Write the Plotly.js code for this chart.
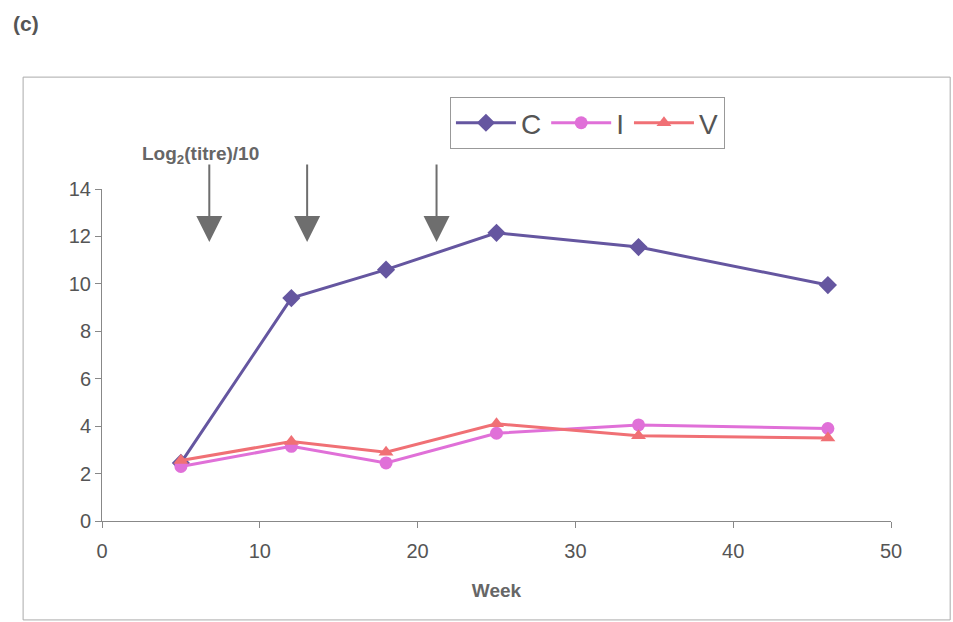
<!DOCTYPE html>
<html>
<head>
<meta charset="utf-8">
<script src="https://cdn.plot.ly/plotly-3.0.1.min.js"></script>
<style>html,body{margin:0;padding:0;background:#fff;}#chart{width:953px;height:622px;}</style>
</head>
<body>
<div id="chart"></div>
<script>
const weeks = [5, 12, 18, 25, 34, 46];
const seriesC = [2.45, 9.4, 10.6, 12.15, 11.55, 9.95];
const seriesI = [2.3, 3.15, 2.45, 3.7, 4.05, 3.9];
const seriesV = [2.55, 3.35, 2.9, 4.1, 3.6, 3.5];
const arrowWeeks = [6.8, 13.0, 21.2];
const xTicks = [0, 10, 20, 30, 40, 50];
const yTicks = [0, 2, 4, 6, 8, 10, 12, 14];

const gray = '#5a5a5a';
const traces = [
  {x: weeks, y: seriesC, name: 'C', mode: 'lines+markers', type: 'scatter',
   line: {color: '#6556a0', width: 3}, marker: {symbol: 'diamond', size: 14, color: '#6556a0'}},
  {x: weeks, y: seriesI, name: 'I', mode: 'lines+markers', type: 'scatter',
   line: {color: '#e070d8', width: 3}, marker: {symbol: 'circle', size: 13, color: '#e070d8'}},
  {x: weeks, y: seriesV, name: 'V', mode: 'lines+markers', type: 'scatter',
   line: {color: '#f07075', width: 3}, marker: {symbol: 'triangle-up', size: 13, color: '#f07075'}}
];

const annotations = arrowWeeks.map(w => ({
  x: w, y: 11.77, xref: 'x', yref: 'y', ax: 0, ay: -79, axref: 'pixel', ayref: 'pixel',
  showarrow: true, arrowhead: 2, arrowsize: 2.6, arrowwidth: 2, arrowcolor: '#6e6e6e', text: ''
}));
annotations.push({text: '(c)', xref: 'paper', yref: 'paper', x: -0.115, y: 1.50, xanchor: 'left', yanchor: 'middle',
  showarrow: false, font: {family: 'Liberation Sans, Arial', size: 21, color: '#555', weight: 'bold'}});
annotations.push({text: 'Log<sub>2</sub>(titre)/10', xref: 'paper', yref: 'paper', x: 0.048, y: 1.102, xanchor: 'left', yanchor: 'middle',
  showarrow: false, font: {family: 'Liberation Sans, Arial', size: 19, color: '#666', weight: 'bold'}});

const layout = {
  width: 953, height: 622,
  margin: {l: 102, r: 62, t: 189, b: 101},
  paper_bgcolor: '#fff', plot_bgcolor: '#fff',
  font: {family: 'Liberation Sans, Arial', color: gray},
  showlegend: true,
  legend: {orientation: 'h', x: 0.441, y: 1.277, xanchor: 'left', yanchor: 'top',
    bordercolor: '#999', borderwidth: 1, bgcolor: '#fff',
    font: {size: 28, color: '#555'}, itemwidth: 60, tracegroupgap: 0},
  xaxis: {range: [0, 50], tickvals: xTicks, showgrid: false, zeroline: false,
    showline: true, linecolor: '#888', linewidth: 1, ticks: 'outside', ticklen: 6, tickcolor: '#888',
    tickfont: {size: 20, color: '#555'}, ticklabelstandoff: 6,
    title: {text: 'Week', font: {size: 19, color: '#666', weight: 'bold'}, standoff: 22}},
  yaxis: {range: [0, 14], tickvals: yTicks, showgrid: false, zeroline: false,
    showline: true, linecolor: '#888', linewidth: 1, ticks: 'outside', ticklen: 6, tickcolor: '#888',
    tickfont: {size: 20, color: '#555'}},
  shapes: [{type: 'rect', xref: 'paper', yref: 'paper', x0: -0.1, x1: 1.075, y0: -0.298, y1: 1.337,
    line: {color: '#aaa', width: 1}}],
  annotations: annotations
};
Plotly.newPlot('chart', traces, layout, {displayModeBar: false, staticPlot: true});
</script>
</body>
</html>
